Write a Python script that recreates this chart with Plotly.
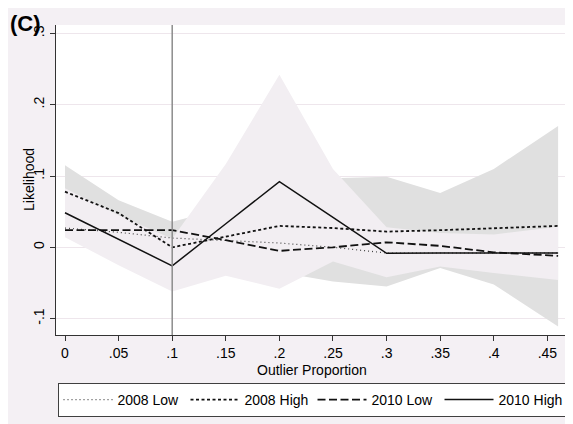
import plotly.graph_objects as go

# ---- data ----
outlier_prop = [0.00, 0.05, 0.10, 0.15, 0.20, 0.25, 0.30, 0.35, 0.40, 0.46]

low_2008  = [0.027, 0.021, 0.013, 0.010, 0.006, 0.000, -0.008, -0.008, -0.008, -0.008]
high_2008 = [0.078, 0.048, 0.000, 0.015, 0.030, 0.027, 0.022, 0.024, 0.027, 0.030]
low_2010  = [0.024, 0.024, 0.024, 0.010, -0.005, 0.000, 0.007, 0.002, -0.007, -0.012]
high_2010 = [0.0485, 0.011, -0.026, 0.033, 0.092, 0.042, -0.0085, -0.008, -0.008, -0.008]

# confidence bands
ci_high_2008_upper = [0.115, 0.066, 0.036, 0.055, 0.080, 0.097, 0.099, 0.076, 0.110, 0.170]
ci_high_2008_lower = [0.041, 0.031, -0.036, -0.028, -0.035, -0.048, -0.055, -0.029, -0.052, -0.111]
ci_high_2010_upper = [0.083, 0.045, 0.012, 0.117, 0.242, 0.110, 0.028, 0.020, 0.018, 0.029]
ci_high_2010_lower = [0.014, -0.025, -0.062, -0.040, -0.058, -0.020, -0.042, -0.027, -0.036, -0.046]

x_tickvals = [0, 0.05, 0.10, 0.15, 0.20, 0.25, 0.30, 0.35, 0.40, 0.45]
x_ticktext = ["0", ".05", ".1", ".15", ".2", ".25", ".3", ".35", ".4", ".45"]
y_tickvals = [-0.1, 0, 0.1, 0.2, 0.3]
y_ticktext = ["-.1", "0", ".1", ".2", ".3"]
ref_line_x = 0.1

FONT = "Liberation Sans, Arial, Helvetica, sans-serif"
BG = "#F4F0F4"

fig = go.Figure()

# grey band (2008 High CI)
fig.add_trace(go.Scatter(x=outlier_prop, y=ci_high_2008_lower, mode="lines",
                         line=dict(width=0), showlegend=False, hoverinfo="skip"))
fig.add_trace(go.Scatter(x=outlier_prop, y=ci_high_2008_upper, mode="lines",
                         line=dict(width=0), fill="tonexty", fillcolor="#E0E0E0",
                         showlegend=False, hoverinfo="skip"))
# light band (2010 High CI)
fig.add_trace(go.Scatter(x=outlier_prop, y=ci_high_2010_lower, mode="lines",
                         line=dict(width=0), showlegend=False, hoverinfo="skip"))
fig.add_trace(go.Scatter(x=outlier_prop, y=ci_high_2010_upper, mode="lines",
                         line=dict(width=0), fill="tonexty", fillcolor="#F2EEF2",
                         showlegend=False, hoverinfo="skip"))

fig.add_trace(go.Scatter(x=outlier_prop, y=low_2008, mode="lines", name="2008 Low",
                         line=dict(color="#444444", width=1.2, dash="1px,3px")))
fig.add_trace(go.Scatter(x=outlier_prop, y=high_2008, mode="lines", name="2008 High",
                         line=dict(color="#111111", width=1.8, dash="3px,2.5px")))
fig.add_trace(go.Scatter(x=outlier_prop, y=low_2010, mode="lines", name="2010 Low",
                         line=dict(color="#111111", width=1.8, dash="8px,3.5px")))
fig.add_trace(go.Scatter(x=outlier_prop, y=high_2010, mode="lines", name="2010 High",
                         line=dict(color="#111111", width=1.5)))

fig.add_shape(type="line", xref="x", yref="paper", x0=ref_line_x, x1=ref_line_x,
              y0=0, y1=1, line=dict(color="#8C8C8C", width=1.5), layer="above")

fig.add_annotation(text="<b>(C)</b>", xref="paper", yref="paper",
                   x=-0.0939, y=1.053, xanchor="left", yanchor="top",
                   showarrow=False, font=dict(size=22, color="black", family=FONT))
fig.add_annotation(text="Likelihood", xref="paper", yref="paper",
                   x=-0.0528, y=0.5, xanchor="center", yanchor="middle", textangle=-90,
                   showarrow=False, font=dict(size=14, color="black", family=FONT))
fig.add_annotation(text="Outlier Proportion", xref="paper", yref="paper",
                   x=0.501, y=-0.113, xanchor="center", yanchor="middle",
                   showarrow=False, font=dict(size=14, color="black", family=FONT))

fig.update_layout(
    width=565, height=416,
    margin=dict(l=48, r=6, t=17, b=89, autoexpand=False),
    paper_bgcolor=BG, plot_bgcolor="white",
    font=dict(family=FONT, size=14, color="black"),
    showlegend=True,
    legend=dict(orientation="h", x=1.001, xanchor="right",
                y=-0.1548, yanchor="top", traceorder="normal",
                bgcolor="white", bordercolor="#404040", borderwidth=1,
                font=dict(size=14, family=FONT), itemwidth=49,
                entrywidth=63, entrywidthmode="pixels", tracegroupgap=0),
    xaxis=dict(range=[-0.0084, 0.4683], tickvals=x_tickvals, ticktext=x_ticktext,
               ticks="outside", ticklen=5, tickcolor="#333333", showline=True,
               linecolor="#333333", linewidth=1, showgrid=False, zeroline=False,
               tickfont=dict(size=14), ticklabelstandoff=0),
    yaxis=dict(range=[-0.123, 0.3118], tickvals=y_tickvals, ticktext=y_ticktext,
               tickangle=-90, ticks="outside", ticklen=5, tickcolor="#333333",
               showline=True, linecolor="#333333", linewidth=1, showgrid=True,
               gridcolor="#EEE6EC", gridwidth=1, zeroline=False,
               tickfont=dict(size=14)),
)

fig.write_html("out.html")
